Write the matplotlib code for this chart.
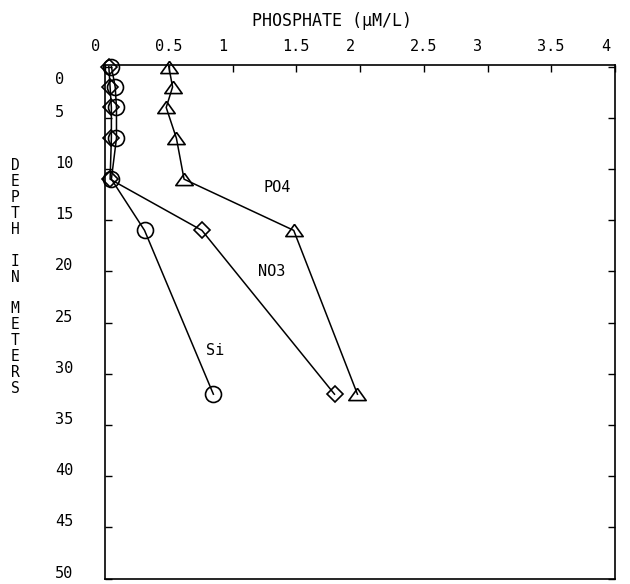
import numpy as np
import matplotlib
matplotlib.use("Agg")
import matplotlib.pyplot as plt
import matplotlib.transforms as mtransforms

# depth profile (m) and concentrations
depth = [0, 2, 4, 7, 11, 16, 32]
po4 = [0.50, 0.53, 0.48, 0.56, 0.62, 1.48, 1.98]
no3 = [0.03, 0.04, 0.05, 0.05, 0.04, 0.76, 1.80]
si = [0.05, 0.08, 0.09, 0.09, 0.05, 0.31, 0.85]

xticks = [0, 0.5, 1, 1.5, 2, 2.5, 3, 3.5, 4]
xtick_labels = ["0", "0.5", "1", "1.5", "2", "2.5", "3", "3.5", "4"]
yticks = list(range(0, 51, 5))

plt.rcParams['font.family'] = ['DejaVu Sans Mono', 'DejaVu Sans']

fig = plt.figure(figsize=(6.3, 5.84), dpi=100)
ax = fig.add_axes([105 / 630, 5.5 / 584, 510 / 630, 513.5 / 584])

# flat plotter-style triangle
tri = [(0, 0.7), (-1, -0.7), (1, -0.7), (0, 0.7)]

ax.plot(si, depth, color='black', lw=1.1, marker='o', ms=11.5,
        mfc='none', mec='black', mew=1.2, clip_on=False)
ax.plot(no3, depth, color='black', lw=1.1, marker='D', ms=8.5,
        mfc='none', mec='black', mew=1.2, clip_on=False)
ax.plot(po4, depth, color='black', lw=1.1, marker=tri, ms=12.5,
        mfc='none', mec='black', mew=1.2, clip_on=False)

ax.text(1.35, 11.8, "PO4", fontsize=11, ha='center', va='center')
ax.text(1.31, 20.0, "NO3", fontsize=11, ha='center', va='center')
ax.text(0.86, 27.7, "Si", fontsize=11, ha='center', va='center')

ax.set_xlim(0, 4)
ax.set_ylim(50.0, -0.15)

ax.xaxis.tick_top()
ax.set_xticks(xticks)
ax.set_xticklabels(xtick_labels)
ax.set_yticks(yticks)
ax.tick_params(axis='x', which='both', direction='in', top=True, bottom=False,
               length=5, width=1, labelsize=11, pad=8)
ax.tick_params(axis='y', which='both', direction='in', left=True, right=True,
               length=5, width=1, labelsize=11, pad=36)

# labels on the old plot sit left of / above their ticks
shift = mtransforms.ScaledTranslation(-0.14, 0, fig.dpi_scale_trans)
for lbl in ax.get_xticklabels():
    lbl.set_horizontalalignment('left')
    lbl.set_transform(lbl.get_transform() + shift)
for i, lbl in enumerate(ax.get_yticklabels()):
    lbl.set_horizontalalignment('left')
    dy = -0.11 if i == 0 else 0.07
    lbl.set_transform(lbl.get_transform()
                      + mtransforms.ScaledTranslation(0, dy, fig.dpi_scale_trans))

for s in ax.spines.values():
    s.set_linewidth(1.2)

ax.xaxis.set_label_position('top')
ax.set_xlabel("PHOSPHATE (\u03bcM/L)", fontsize=12)
ax.xaxis.set_label_coords(0.445, 1.076)

fig.text(15 / 630, 1 - 277 / 584, "\n".join("DEPTH IN METERS").replace(" ", ""),
         fontsize=10.5, ha='center', va='center', linespacing=1.08)

fig.savefig("out.png", dpi=100)
